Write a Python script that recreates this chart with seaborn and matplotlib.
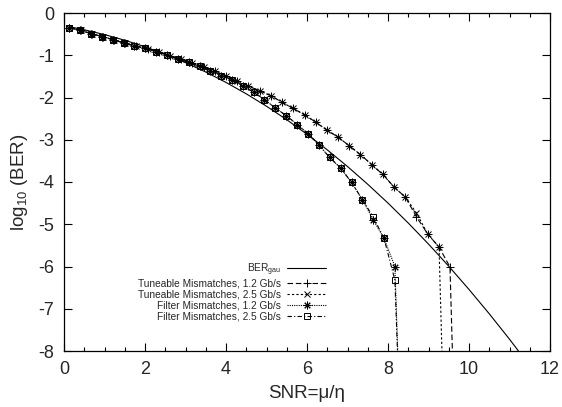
import numpy as np
import pandas as pd
import seaborn as sns
import matplotlib
matplotlib.use("Agg")
import matplotlib.pyplot as plt
from matplotlib.ticker import MultipleLocator

# ---------------- data ----------------
gau_snr = [0.13, 0.5, 1.0, 1.5, 2.0, 2.5, 3.0, 3.5, 4.0, 4.5, 5.0, 5.5, 6.0,
           6.5, 7.0, 7.5, 8.0, 8.5, 9.0, 9.5, 10.0, 10.5, 11.0, 11.5]
gau_log = [-0.324, -0.397, -0.511, -0.645, -0.799, -0.976, -1.175, -1.397,
           -1.643, -1.913, -2.207, -2.526, -2.870, -3.239, -3.633, -4.054,
           -4.499, -4.971, -5.469, -5.993, -6.543, -7.119, -7.721, -8.351]

tune12_snr = [0.13, 0.41, 0.68, 0.96, 1.24, 1.51, 1.79, 2.07, 2.34, 2.62, 2.90,
              3.17, 3.45, 3.73, 4.00, 4.28, 4.55, 4.83, 5.11, 5.38, 5.66, 5.94,
              6.21, 6.49, 6.77, 7.04, 7.32, 7.60, 7.87, 8.15, 8.43, 8.70, 8.98,
              9.26, 9.53, 9.65]
tune12_log = [-0.35, -0.41, -0.49, -0.56, -0.64, -0.71, -0.79, -0.85, -0.93,
              -1.01, -1.10, -1.19, -1.28, -1.37, -1.49, -1.60, -1.73, -1.84,
              -1.96, -2.11, -2.26, -2.41, -2.58, -2.77, -2.94, -3.14, -3.35,
              -3.59, -3.82, -4.12, -4.36, -4.82, -5.23, -5.54, -6.01, -10.0]

tune25_snr = [0.13, 0.41, 0.68, 0.96, 1.24, 1.51, 1.79, 2.07, 2.34, 2.62, 2.90,
              3.17, 3.45, 3.73, 4.00, 4.28, 4.55, 4.83, 5.11, 5.38, 5.66, 5.94,
              6.21, 6.49, 6.77, 7.04, 7.32, 7.60, 7.87, 8.15, 8.43, 8.70, 8.98,
              9.26, 9.39]
tune25_log = [-0.35, -0.41, -0.49, -0.56, -0.64, -0.71, -0.79, -0.85, -0.93,
              -1.01, -1.10, -1.19, -1.28, -1.37, -1.49, -1.60, -1.73, -1.84,
              -1.96, -2.11, -2.26, -2.41, -2.58, -2.77, -2.94, -3.14, -3.35,
              -3.59, -3.82, -4.12, -4.36, -4.73, -5.23, -5.54, -10.0]

filt_snr = [0.13, 0.40, 0.67, 0.94, 1.20, 1.47, 1.74, 2.01, 2.28, 2.54, 2.81,
            3.08, 3.35, 3.61, 3.88, 4.15, 4.42, 4.69, 4.95, 5.22, 5.49, 5.76,
            6.03, 6.29, 6.56, 6.83, 7.10, 7.37, 7.63, 7.90, 8.17, 8.31]
filt12_log = [-0.35, -0.41, -0.49, -0.56, -0.63, -0.71, -0.78, -0.84, -0.92,
              -0.99, -1.08, -1.17, -1.26, -1.38, -1.48, -1.59, -1.73, -1.88,
              -2.05, -2.25, -2.43, -2.64, -2.86, -3.12, -3.42, -3.67, -4.01,
              -4.42, -4.89, -5.33, -6.00, -10.0]
filt25_log = [-0.35, -0.41, -0.49, -0.56, -0.63, -0.71, -0.78, -0.84, -0.92,
              -0.99, -1.08, -1.17, -1.26, -1.38, -1.48, -1.59, -1.73, -1.88,
              -2.05, -2.25, -2.43, -2.64, -2.86, -3.12, -3.42, -3.67, -4.01,
              -4.42, -4.82, -5.33, -6.32, -10.0]

labels = ["BER$_{\\mathrm{gau}}$",
          "Tuneable Mismatches, 1.2 Gb/s",
          "Tuneable Mismatches, 2.5 Gb/s",
          "Filter Mismatches, 1.2 Gb/s",
          "Filter Mismatches, 2.5 Gb/s"]

# ---------------- style ----------------
sns.set_style("ticks")
plt.rcParams["font.family"] = ["Liberation Sans", "DejaVu Sans"]
plt.rcParams["mathtext.fontset"] = "custom"
plt.rcParams["mathtext.rm"] = "Liberation Sans"
plt.rcParams["mathtext.it"] = "Liberation Sans:italic"
plt.rcParams["mathtext.bf"] = "Liberation Sans:bold"
plt.rcParams["axes.unicode_minus"] = False

fig = plt.figure(figsize=(5.62, 4.07), dpi=100)
ax = fig.add_axes([64 / 562, 1 - 351 / 407, 486 / 562, 338 / 407])

lw = 0.8
common = dict(ax=ax, color="black", sort=False, estimator=None, lw=lw,
              markeredgecolor="black", markerfacecolor="none", markeredgewidth=0.7)

sns.lineplot(x=gau_snr, y=gau_log, ax=ax, color="black", lw=lw, sort=False,
             estimator=None, label=labels[0])
sns.lineplot(x=tune12_snr, y=tune12_log, linestyle=(0, (5, 2.5)), marker="+",
             markersize=6, label=labels[1], **common)
sns.lineplot(x=tune25_snr, y=tune25_log, linestyle=(0, (2, 2)), marker="x",
             markersize=4.5, label=labels[2], **common)
sns.lineplot(x=filt_snr, y=filt12_log, linestyle=(0, (1, 1)), marker=(8, 2, 0),
             markersize=5.5, label=labels[3], **common)
sns.lineplot(x=filt_snr, y=filt25_log, linestyle=(0, (4, 2, 1, 2)), marker="s",
             markersize=4.5, label=labels[4], **common)

ax.set_xlim(0, 12)
ax.set_ylim(-8, 0)
ax.xaxis.set_major_locator(MultipleLocator(2))
ax.xaxis.set_minor_locator(MultipleLocator(0.5))
ax.yaxis.set_major_locator(MultipleLocator(1))
ax.tick_params(which="both", direction="in", top=True, right=True, width=0.8,
               labelsize=13, color="black")
ax.tick_params(which="major", length=6, pad=7)
ax.tick_params(which="minor", length=3)
for s in ax.spines.values():
    s.set_linewidth(0.9)
    s.set_color("black")

ax.set_xlabel("SNR=\u03bc/\u03b7", fontsize=13.5, labelpad=5)
ax.set_ylabel("log$_{10}$ (BER)", fontsize=13.5, labelpad=6)

handles, labs = ax.get_legend_handles_labels()
leg = ax.legend(handles, labs, loc="upper right", bbox_to_anchor=(0.539, 0.265),
                frameon=False, markerfirst=False, numpoints=1, fontsize=7.3,
                handlelength=3.8, handletextpad=0.6, labelspacing=0.1,
                borderpad=0, borderaxespad=0)
try:
    for vp in leg._legend_box._children[-1]._children:
        vp.align = "right"
except Exception:
    pass

fig.savefig("out.png", dpi=100)
